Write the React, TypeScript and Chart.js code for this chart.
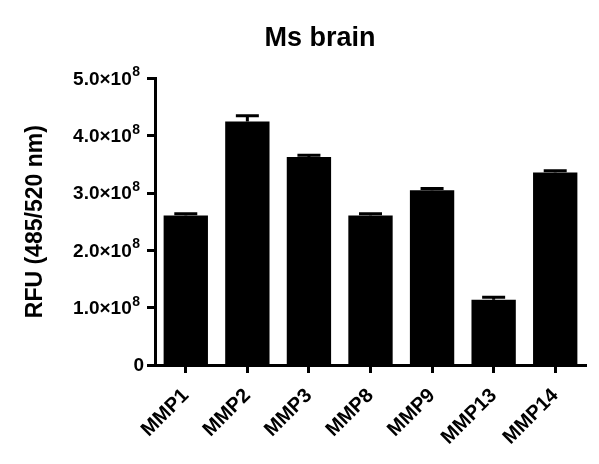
import { useEffect, useRef } from 'react';
import Chart from 'chart.js/auto';

const categories = ['MMP1', 'MMP2', 'MMP3', 'MMP8', 'MMP9', 'MMP13', 'MMP14'];
const means = [2.61e8, 4.25e8, 3.63e8, 2.61e8, 3.05e8, 1.14e8, 3.36e8];
const errors = [0.03e8, 0.1e8, 0.03e8, 0.03e8, 0.03e8, 0.04e8, 0.03e8];
const yTicks = [0, 1e8, 2e8, 3e8, 4e8, 5e8];

const FONT = "'Liberation Sans', Arial, sans-serif";

// upper-only error bars, GraphPad style
const errorBars = {
  id: 'errorBars',
  afterDatasetsDraw(chart: any) {
    const { ctx } = chart;
    const meta = chart.getDatasetMeta(0);
    const y = chart.scales.y;
    ctx.save();
    ctx.strokeStyle = '#000';
    ctx.lineWidth = 3;
    meta.data.forEach((bar: any, i: number) => {
      const top = y.getPixelForValue(means[i] + errors[i]);
      ctx.beginPath();
      ctx.moveTo(bar.x, bar.y);
      ctx.lineTo(bar.x, top);
      ctx.moveTo(bar.x - 11.5, top);
      ctx.lineTo(bar.x + 11.5, top);
      ctx.stroke();
    });
    ctx.restore();
  },
};

// y tick labels with a real superscript exponent
const sciTicks = {
  id: 'sciTicks',
  afterDraw(chart: any) {
    const { ctx } = chart;
    const y = chart.scales.y;
    const right = y.right - 8 - 7;
    ctx.save();
    ctx.fillStyle = '#000';
    yTicks.forEach(v => {
      const py = y.getPixelForValue(v);
      if (v === 0) {
        ctx.font = `bold 19px ${FONT}`;
        ctx.textAlign = 'right';
        ctx.textBaseline = 'middle';
        ctx.fillText('0', right + 4, py + 1);
        return;
      }
      ctx.font = `bold 14px ${FONT}`;
      const supW = ctx.measureText('8').width;
      ctx.textAlign = 'left';
      ctx.textBaseline = 'alphabetic';
      ctx.fillText('8', right - supW, py - 2);
      ctx.font = `bold 19px ${FONT}`;
      ctx.textAlign = 'right';
      ctx.textBaseline = 'middle';
      ctx.fillText(`${(v / 1e8).toFixed(1)}×10`, right - supW - 0.5, py + 1);
    });
    ctx.restore();
  },
};

function BrainChart() {
  const chartRef = useRef<HTMLCanvasElement>(null);
  const chartInstance = useRef<Chart | null>(null);

  useEffect(() => {
    if (chartRef.current) {
      if (chartInstance.current) {
        chartInstance.current.destroy();
      }
      const ctx = chartRef.current.getContext('2d');
      if (ctx) {
        chartInstance.current = new Chart(ctx, {
          type: 'bar',
          data: {
            labels: categories,
            datasets: [{
              data: means,
              backgroundColor: '#000',
              borderWidth: 0,
              categoryPercentage: 1,
              barPercentage: 0.72,
            }],
          },
          options: {
            responsive: false,
            animation: false,
            layout: { padding: { left: 54, right: 13, top: 0, bottom: 0 } },
            plugins: {
              legend: { display: false },
              tooltip: { enabled: false },
              title: {
                display: true,
                text: 'Ms brain',
                color: '#000',
                font: { family: FONT, size: 27, weight: 'bold' },
                padding: { top: 22, bottom: 24 },
              },
            },
            scales: {
              x: {
                afterFit: (s: any) => { s.height = 99; },
                grid: {
                  display: true,
                  offset: false,
                  drawOnChartArea: false,
                  drawTicks: true,
                  tickLength: 8,
                  tickWidth: 3,
                  tickColor: '#000',
                },
                border: { display: true, width: 3, color: '#000' },
                ticks: {
                  color: '#000',
                  minRotation: 45,
                  maxRotation: 45,
                  padding: 11,
                  font: { family: FONT, size: 20, weight: 'bold' },
                },
              },
              y: {
                min: 0,
                max: 5e8,
                afterFit: (s: any) => { s.width = 101; },
                afterBuildTicks: (s: any) => { s.ticks = yTicks.map(v => ({ value: v })); },
                grid: {
                  display: true,
                  drawOnChartArea: false,
                  drawTicks: true,
                  tickLength: 8,
                  tickWidth: 3,
                  tickColor: '#000',
                },
                border: { display: true, width: 3, color: '#000' },
                ticks: { display: false },
                title: {
                  display: true,
                  text: 'RFU (485/520 nm)',
                  color: '#000',
                  font: { family: FONT, size: 23, weight: 'bold' },
                  padding: { top: -32, bottom: 0 },
                },
              },
            },
          },
          plugins: [errorBars, sciTicks],
        });
      }
    }
    return () => {
      if (chartInstance.current) {
        chartInstance.current.destroy();
        chartInstance.current = null;
      }
    };
  }, []);

  return <canvas ref={chartRef} width={599} height={464} />;
}

export default function App() {
  return (
    <div style={{ position: 'fixed', left: 0, top: 0, width: 599, height: 464, background: '#fff' }}>
      <BrainChart />
    </div>
  );
}
